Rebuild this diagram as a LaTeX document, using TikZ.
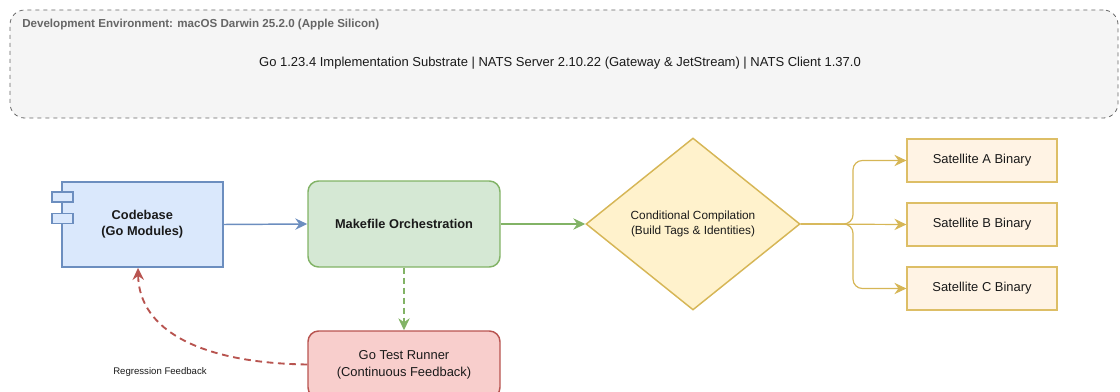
\documentclass[tikz,border=0pt]{standalone}
\usepackage{fontspec}
\setmainfont{Liberation Sans}
\usetikzlibrary{arrows.meta,shapes.geometric}
\definecolor{envfill}{HTML}{F5F5F5}
\definecolor{envline}{HTML}{666666}
\definecolor{bluefill}{HTML}{DAE8FC}
\definecolor{blueline}{HTML}{6C8EBF}
\definecolor{greenfill}{HTML}{D5E8D4}
\definecolor{greenline}{HTML}{82B366}
\definecolor{yelfill}{HTML}{FFF2CC}
\definecolor{yelline}{HTML}{D6B656}
\definecolor{redfill}{HTML}{F8CECC}
\definecolor{redline}{HTML}{B85450}
\definecolor{satfill}{HTML}{FFF3E4}
\definecolor{satline}{HTML}{DDBE66}
\definecolor{txt}{HTML}{1A1A1A}
\tikzset{
  box/.style={draw, line width=1.1pt, align=center, text=txt, font=\fontsize{9.7pt}{12pt}\selectfont, inner sep=0pt},
  satbox/.style={box, fill=satfill, draw=satline, line width=0.9pt, minimum width=112.5pt, minimum height=32.25pt},
  arr/.style={line width=1.1pt, -{Stealth[length=9pt,width=8.5pt,inset=3pt]}},
}
\begin{document}
\begin{tikzpicture}[x=0.75pt,y=-0.75pt]
\useasboundingbox (0,0) rectangle (1120,392);
\clip (0,0) rectangle (1120,392);
% environment
\node[draw=envline, fill=envfill, dashed, line width=0.6pt, rounded corners=11pt,
  minimum width=831pt, minimum height=81pt, inner sep=0pt] (env) at (564,64) {};
\node[anchor=west, text=envline, font=\bfseries\fontsize{8.7pt}{10pt}\selectfont, inner sep=0pt] (envtitle) at (22,25)
  {Development Environment: macOS Darwin 25.2.0 (Apple Silicon)};
\node[text=txt, font=\fontsize{9.75pt}{11pt}\selectfont, inner sep=0pt] (envtext) at (560,63)
  {Go 1.23.4 Implementation Substrate | NATS Server 2.10.22 (Gateway \& JetStream) | NATS Client 1.37.0};
% codebase
\node[box, fill=bluefill, draw=blueline, minimum width=120.75pt, minimum height=64pt, font=\bfseries\fontsize{9.6pt}{12pt}\selectfont] (code) at (142.3,224.5) {Codebase\\(Go Modules)};
\node[draw=blueline, fill=bluefill, line width=1.1pt, minimum width=15.5pt, minimum height=7.5pt, inner sep=0pt] (tab1) at (62.5,197.2) {};
\node[draw=blueline, fill=bluefill, line width=1.1pt, minimum width=15.5pt, minimum height=7.5pt, inner sep=0pt] (tab2) at (62.5,218.7) {};
% makefile
\node[box, fill=greenfill, draw=greenline, rounded corners=8pt, minimum width=144pt, minimum height=64.5pt, font=\bfseries\fontsize{9.6pt}{11pt}\selectfont] (make) at (404,224) {Makefile Orchestration};
% diamond
\node[box, diamond, fill=yelfill, draw=yelline, minimum width=160.5pt, minimum height=129pt, font=\fontsize{8.85pt}{10.8pt}\selectfont] (cond) at (693,224) {Conditional Compilation\\(Build Tags \& Identities)};
% satellites
\node[satbox] (sa) at (982,160.5) {Satellite A Binary};
\node[satbox] (sb) at (982,224.5) {Satellite B Binary};
\node[satbox] (sc) at (982,288.5) {Satellite C Binary};
% test runner
\node[box, fill=redfill, draw=redline, rounded corners=8pt, minimum width=144pt, minimum height=50.25pt, font=\fontsize{9.7pt}{12.8pt}\selectfont] (test) at (404,364.5) {Go Test Runner\\(Continuous Feedback)};
% label
\node[text=txt, font=\fontsize{7.2pt}{8pt}\selectfont, inner sep=0pt] (reglabel) at (160,372) {Regression Feedback};
% connectors
\draw[arr, blueline] (code.east) -- (make.west);
\draw[arr, greenline] (make.east) -- (cond.west);
\draw[arr, greenline, dash pattern=on 4.5pt off 3pt] (make.south) -- (test.north);
\draw[arr, redline, line width=1.4pt, dash pattern=on 5pt off 3.5pt] (test.west) .. controls (200,363) and (139,330) .. (code.south -| 138,0);
\draw[arr, yelline, line width=0.9pt, rounded corners=7pt] (cond.east) -- (853,224) |- (sa.west);
\draw[arr, yelline, line width=0.9pt] (cond.east) -- (sb.west);
\draw[arr, yelline, line width=0.9pt, rounded corners=7pt] (cond.east) -- (853,224) |- (sc.west);
\end{tikzpicture}
\end{document}
